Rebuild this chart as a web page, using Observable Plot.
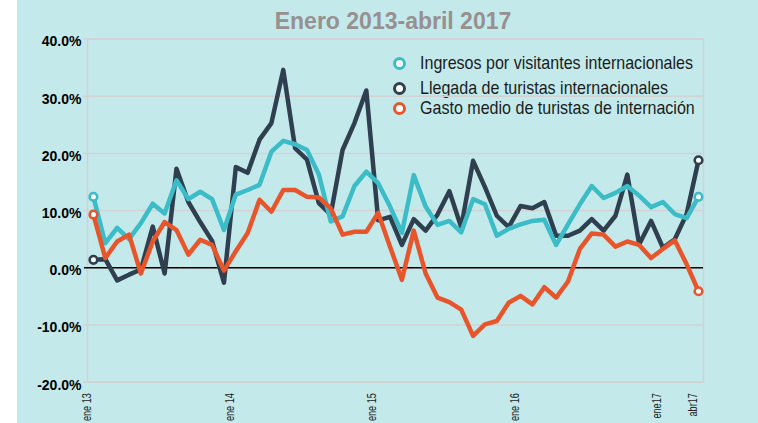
<!DOCTYPE html>
<html>
<head>
<meta charset="utf-8">
<script src="https://cdn.jsdelivr.net/npm/d3@7"></script>
<script src="https://cdn.jsdelivr.net/npm/@observablehq/plot@0.6"></script>
<style>
  html, body { margin: 0; padding: 0; background: #ffffff; }
  #wrap {
    position: relative; width: 758px; height: 423px; overflow: hidden;
    background: linear-gradient(to right, #ffffff 0 17px, #c3e9eb 17px);
    font-family: "Liberation Sans", Arial, sans-serif;
  }
  #title {
    position: absolute; left: 393px; top: 8px; transform: translateX(-50%);
    font-size: 23px; line-height: 26px; font-weight: bold; color: #979090; white-space: nowrap;
  }
  #legend { position: absolute; left: 0; top: 0; }
  .item { position: absolute; left: 393px; height: 20px; display: flex; align-items: center; white-space: nowrap;
          font-size: 18.5px; color: #1c1c1c; }
  .sw { width: 7px; height: 7px; border-radius: 50%; background: #fff; border: 3px solid; margin-right: 14px; flex: none; }
  .lt { display: inline-block; transform-origin: 0 50%; }
  svg { position: absolute; left: 0; top: 0; }
</style>
</head>
<body>
<div id="wrap">
  <div id="title">Enero 2013-abril 2017</div>
  <div id="legend"></div>
</div>
<script>
// Series names
const seriesNames = [
  "Ingresos por visitantes internacionales",
  "Llegada de turistas internacionales",
  "Gasto medio de turistas de internación"
];
const seriesColors = ["#3bbcc7", "#2f3f4f", "#e8552a"];

// Monthly year-on-year change (%), ene 2013 .. abr 2017 (52 months)
const ingresos = [12.4, 4.3, 7.0, 5.0, 7.8, 11.2, 9.5, 15.3, 12.0, 13.3,
  12.0, 6.6, 12.8, 13.6, 14.5, 20.3, 22.2, 21.6, 20.6, 16.3,
  8.1, 9.0, 14.3, 16.8, 14.8, 10.7, 6.1, 16.2, 10.7, 7.5,
  8.2, 6.2, 12.0, 11.1, 5.6, 6.8, 7.6, 8.2, 8.4, 4.0,
  7.6, 11.1, 14.3, 12.2, 13.1, 14.3, 12.6, 10.6, 11.5, 9.4,
  8.7, 12.4];
const llegada = [1.4, 1.5, -2.2, -1.2, -0.3, 7.2, -1.0, 17.3, 11.5, 8.0,
  4.7, -2.6, 17.6, 16.6, 22.4, 25.3, 34.6, 20.9, 18.9, 11.3,
  9.3, 20.6, 25.3, 31.0, 8.3, 8.9, 4.0, 8.5, 6.5, 9.3,
  13.4, 7.1, 18.7, 14.1, 9.1, 7.1, 10.8, 10.4, 11.5, 5.6,
  5.6, 6.5, 8.5, 6.5, 9.1, 16.3, 4.1, 8.2, 3.5, 5.0,
  9.4, 18.8];
const gasto = [9.3, 1.7, 4.6, 5.8, -1.0, 4.6, 8.0, 6.6, 2.3, 4.9,
  4.0, -0.5, 2.9, 6.1, 11.9, 9.8, 13.6, 13.6, 12.4, 12.3,
  10.4, 5.8, 6.3, 6.3, 9.6, 3.7, -2.1, 6.5, -1.0, -5.2,
  -6.0, -7.3, -11.9, -9.9, -9.3, -6.1, -4.9, -6.4, -3.4, -5.2,
  -2.4, 3.3, 6.0, 5.8, 3.7, 4.6, 4.0, 1.7, 3.3, 4.8,
  0.6, -4.1];

// Axis ticks
const xTickIndex = [0, 12, 24, 36, 48, 51];
const xTickLabels = ["ene 13", "ene 14", "ene 15", "ene 16", "ene17", "abr17"];
const yTicks = [-20, -10, 0, 10, 20, 30, 40];

// Build long table; drawing order: llegada, ingresos, gasto
const drawOrder = [1, 0, 2];
const valuesBySeries = [ingresos, llegada, gasto];
const rows = drawOrder.flatMap(k => valuesBySeries[k].map((v, i) => ({i, v, s: seriesNames[k]})));
const ends = drawOrder.flatMap(k => {
  const vals = valuesBySeries[k];
  return [{i: 0, v: vals[0], s: seriesNames[k]}, {i: vals.length - 1, v: vals[vals.length - 1], s: seriesNames[k]}];
});
const xTicks = xTickIndex.map((i, j) => ({i, label: xTickLabels[j]}));

const FONT = '"Liberation Sans", Arial, sans-serif';

const chart = Plot.plot({
  width: 758,
  height: 423,
  marginLeft: 87,
  marginRight: 55,
  marginTop: 38.5,
  marginBottom: 41.3,
  style: {background: "transparent", fontFamily: FONT, overflow: "visible"},
  x: {domain: [-0.5, 51.42], axis: null},
  y: {domain: [-20, 40]},
  color: {domain: seriesNames, range: seriesColors},
  marks: [
    Plot.gridY(yTicks, {stroke: "#d2d2d2", strokeOpacity: 1, strokeWidth: 1.5, insetLeft: -4}),
    Plot.frame({stroke: "#d2d2d2", strokeWidth: 1.5}),
    Plot.axisY(yTicks, {
      tickSize: 0, tickPadding: 6, tickFormat: d => d.toFixed(1) + "%",
      fontWeight: "bold", fontSize: 14, fill: "#000", dy: 3, label: null, className: "ylab"
    }),
    Plot.ruleY([0], {stroke: "#000", strokeWidth: 1.5, insetLeft: -3}),
    Plot.line(rows, {x: "i", y: "v", z: "s", stroke: "s", strokeWidth: 4.5}),
    Plot.dot(ends, {x: "i", y: "v", stroke: "s", fill: "white", r: 3.8, strokeWidth: 2.6}),
    Plot.text(xTicks, {
      x: "i", text: "label", frameAnchor: "bottom", rotate: -90, textAnchor: "end",
      dy: 11, dx: -2, fontSize: 12, fill: "#222", className: "xlab"
    })
  ]
});
document.getElementById("wrap").appendChild(chart);

// Condense the x tick labels
chart.querySelectorAll(".xlab text").forEach(t => {
  const w = t.getComputedTextLength();
  t.setAttribute("textLength", (w * 0.76).toFixed(1));
  t.setAttribute("lengthAdjust", "spacingAndGlyphs");
});

// Legend (HTML overlay)
const legend = document.getElementById("legend");
const legendTops = [53, 78, 98];
const spans = [];
seriesNames.forEach((name, k) => {
  const item = document.createElement("div");
  item.className = "item";
  item.style.top = legendTops[k] + "px";
  const sw = document.createElement("span");
  sw.className = "sw";
  sw.style.borderColor = seriesColors[k];
  const t = document.createElement("span");
  t.className = "lt";
  t.textContent = name;
  item.appendChild(sw);
  item.appendChild(t);
  legend.appendChild(item);
  spans.push(t);
});
// condense legend text so the first entry spans ~273px like the reference
const scale = 273 / spans[0].getBoundingClientRect().width;
spans.forEach(s => { s.style.transform = `scaleX(${scale})`; });
</script>
</body>
</html>
